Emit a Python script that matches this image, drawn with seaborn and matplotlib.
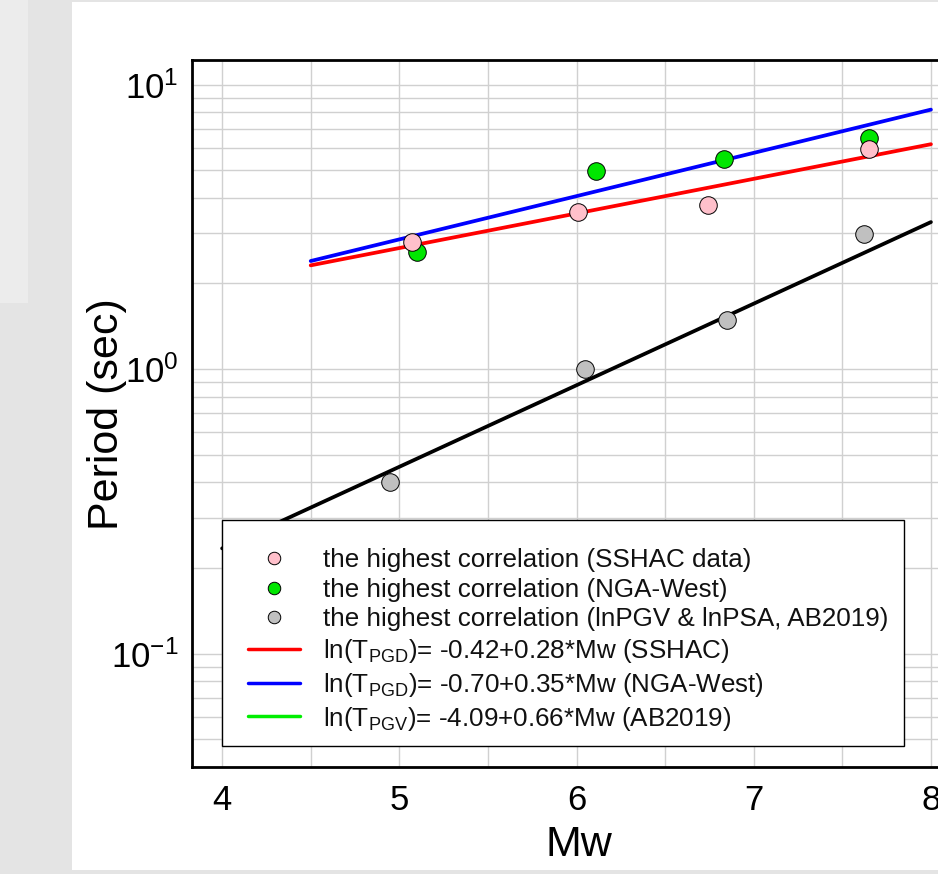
import numpy as np
import pandas as pd
import matplotlib
matplotlib.use("Agg")
import matplotlib.pyplot as plt
from matplotlib.lines import Line2D
from matplotlib.patches import Rectangle
from matplotlib.ticker import LogLocator, MultipleLocator, NullFormatter, FixedLocator
import seaborn as sns

# ---- observed periods of highest correlation -------------------------------
sshac_mw = [5.07, 6.01, 6.74, 7.65]
sshac_period = [2.79, 3.56, 3.76, 5.96]

nga_mw = [5.10, 6.11, 6.83, 7.65]
nga_period = [2.58, 4.95, 5.46, 6.47]

ab_mw = [4.95, 6.05, 6.85, 7.62]
ab_period = [0.40, 1.00, 1.49, 2.98]

# ---- regression coefficients: ln(T) = a + b*Mw ----------------------------
sshac_coef = (-0.42, 0.28)
nga_coef = (-0.70, 0.35)
ab_coef = (-4.09, 0.66)

pgd_mw_range = [4.5, 8.0]
pgv_mw_range = [4.0, 8.0]

legend_labels = [
    "the highest correlation (SSHAC data)",
    "the highest correlation (NGA-West)",
    "the highest correlation (lnPGV & lnPSA, AB2019)",
    r"ln(T$_{\mathrm{PGD}}$)= -0.42+0.28*Mw (SSHAC)",
    r"ln(T$_{\mathrm{PGD}}$)= -0.70+0.35*Mw (NGA-West)",
    r"ln(T$_{\mathrm{PGV}}$)= -4.09+0.66*Mw (AB2019)",
]


def fit_frame(mw_range, coef):
    mw = np.array(mw_range, dtype=float)
    return pd.DataFrame({"Mw": mw, "T": np.exp(coef[0] + coef[1] * mw)})


sns.set_theme(style="white")
plt.rcParams["font.family"] = ["Liberation Sans", "DejaVu Sans"]
plt.rcParams["mathtext.fontset"] = "custom"
plt.rcParams["mathtext.rm"] = "Liberation Sans"
plt.rcParams["mathtext.it"] = "Liberation Sans:italic"
plt.rcParams["mathtext.bf"] = "Liberation Sans:bold"

W, H = 938, 874
fig = plt.figure(figsize=(W / 100, H / 100), dpi=100, facecolor="#e4e4e4")

# page panels behind the chart
fig.add_artist(Rectangle((0, 1 - 303 / H), 28 / W, 303 / H, transform=fig.transFigure,
                         facecolor="#ececec", edgecolor="none", zorder=-5))
fig.add_artist(Rectangle((72 / W, 1 - 870 / H), (W - 72) / W, 868 / H, transform=fig.transFigure,
                         facecolor="white", edgecolor="none", zorder=-4))

x_lo, x_hi = 3.83, 8.2
px_per_mw = 177.2
ax_left, ax_top, ax_bottom = 192, 60, 767
ax_w = (x_hi - x_lo) * px_per_mw
ax_h = ax_bottom - ax_top
ax = fig.add_axes([ax_left / W, 1 - ax_bottom / H, ax_w / W, ax_h / H])
ax.set_facecolor("white")

# regression lines
sns.lineplot(data=fit_frame(pgd_mw_range, sshac_coef), x="Mw", y="T", color="#ff0000",
             lw=2.7, ax=ax, zorder=3)
sns.lineplot(data=fit_frame(pgd_mw_range, nga_coef), x="Mw", y="T", color="#0000ff",
             lw=2.7, ax=ax, zorder=3)
sns.lineplot(data=fit_frame(pgv_mw_range, ab_coef), x="Mw", y="T", color="black",
             lw=2.7, ax=ax, zorder=3)

# observed points
pt = dict(s=160, edgecolor="black", linewidth=0.7, ax=ax, zorder=4)
sns.scatterplot(x=nga_mw, y=nga_period, color="#00e600", **pt)
sns.scatterplot(x=sshac_mw, y=sshac_period, color="#ffc0cb", **pt)
sns.scatterplot(x=ab_mw, y=ab_period, color="#c0c0c0", **pt)

ax.set_yscale("log")
ax.set_xlim(x_lo, x_hi)
ax.set_ylim(0.04, 12.2)

ax.xaxis.set_major_locator(FixedLocator([4, 5, 6, 7, 8]))
ax.xaxis.set_minor_locator(MultipleLocator(0.5))
ax.yaxis.set_major_locator(LogLocator(base=10))
ax.yaxis.set_minor_locator(LogLocator(base=10, subs=np.arange(2, 10)))
ax.yaxis.set_minor_formatter(NullFormatter())

ax.grid(True, which="both", color="#d0d0d0", lw=1.0, zorder=0)
ax.set_axisbelow(True)

ax.tick_params(axis="both", which="major", direction="in", length=7, width=2,
               color="black", labelsize=25, labelcolor="black")
ax.tick_params(axis="x", which="major", pad=12)
ax.tick_params(axis="y", which="major", pad=10)
ax.tick_params(axis="both", which="minor", length=0)

for side in ["left", "bottom", "top", "right"]:
    ax.spines[side].set_visible(True)
    ax.spines[side].set_color("black")
    ax.spines[side].set_linewidth(2)

ax.set_xlabel("Mw", fontsize=31, color="black", labelpad=6)
ax.set_ylabel("Period (sec)", fontsize=31, color="black")
ax.yaxis.set_label_coords((127 - ax_left) / ax_w, (ax_bottom - 414) / ax_h)

# legend box (white panel with thin black border) and its entries
ax.add_patch(Rectangle((222 / W, 1 - 746 / H), 682 / W, 226 / H, transform=fig.transFigure,
                       facecolor="white", edgecolor="black", lw=1.0, zorder=9, clip_on=False))

handles = [
    Line2D([], [], ls="none", marker="o", ms=9, mfc="#ffc0cb", mec="black", mew=0.7),
    Line2D([], [], ls="none", marker="o", ms=9, mfc="#00e600", mec="black", mew=0.7),
    Line2D([], [], ls="none", marker="o", ms=9, mfc="#c0c0c0", mec="black", mew=0.7),
    Line2D([], [], color="#ff0000", lw=2.5),
    Line2D([], [], color="#0000ff", lw=2.5),
    Line2D([], [], color="#00ee00", lw=2.5),
]
leg = ax.legend(handles, legend_labels, loc="upper left",
                bbox_to_anchor=(222 / W, 1 - 522 / H),
                bbox_transform=fig.transFigure, borderaxespad=0,
                fontsize=18.7, frameon=False,
                borderpad=1.0, labelspacing=0.22,
                handlelength=2.0, handletextpad=0.9)
leg.set_zorder(10)
for t in leg.get_texts():
    t.set_color("#111111")

fig.savefig("out.png", dpi=100, facecolor=fig.get_facecolor())
